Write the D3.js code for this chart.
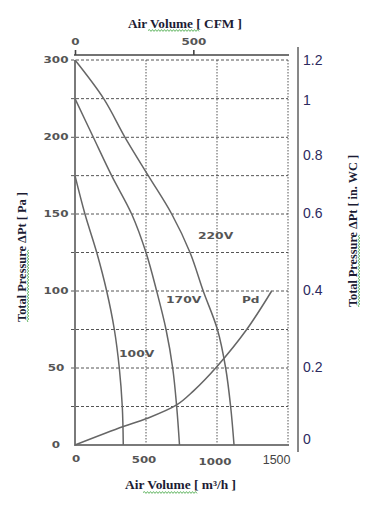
<!DOCTYPE html>
<html><head><meta charset="utf-8">
<script src="https://cdn.jsdelivr.net/npm/d3@7"></script>
<style>body{margin:0;background:#fff}svg{display:block}</style>
</head><body><svg id="c" width="368" height="507"></svg>
<script>
// ---- data ----
const airflowTicks = [0, 500, 1000, 1500];          // m³/h
const cfmTicks = [0, 500];                           // CFM
const paTicks = [0, 50, 100, 150, 200, 300];         // Pa (labels as printed)
const paGrid = [25, 50, 75, 100, 125, 150, 175, 200, 250, 300];
const inwcTicks = [0, 0.2, 0.4, 0.6, 0.8, 1, 1.2];   // in. WC
const curve220 = [[0,300],[202,250],[352,200],[516,175],[681,150],[810,125],[903,100],[1003,75],[1061,50],[1096,25],[1120,0]];
const curve170 = [[0,250],[129,200],[258,175],[399,150],[500,125],[575,100],[641,75],[688,50],[716,25],[736,0]];
const curve100 = [[0,175],[70,150],[153,125],[223,100],[277,75],[312,50],[333,25],[340,0]];
const curvePd  = [[0,0],[340,12],[500,17],[716,26],[833,35],[1000,51],[1209,75],[1385,100]];
const seriesLabels = [
  {text:"220V", at:[866,134]},
  {text:"170V", at:[641,92]},
  {text:"100V", at:[310,57]},
  {text:"Pd",   at:[1176,92]}
];

// ---- layout ----
const svg = d3.select("#c");
const x = d3.scaleLinear().domain([0,1500]).range([75,288]);
const xCfm = d3.scaleLinear().domain([0,900]).range([75,288]);
const y = d3.scaleLinear().domain([0,150,200,300]).range([445,214,137.3,60]);
const yIn = d3.scaleLinear().domain([0,0.2,0.4,0.6,0.8,1,1.2]).range([439,367,290,213,155,100,60]);

const wideFont = "'DejaVu Sans', sans-serif";
const serif = "'Liberation Serif', 'Times New Roman', serif";

// grid lines
svg.append("g").selectAll("line").data(paGrid).join("line")
  .attr("x1", 71).attr("x2", x(1500))
  .attr("y1", d => y(d)).attr("y2", d => y(d))
  .attr("stroke", "#555").attr("stroke-width", 1).attr("stroke-dasharray", "3,2");
svg.append("g").selectAll("line").data(airflowTicks.slice(1)).join("line")
  .attr("x1", d => x(d)).attr("x2", d => x(d))
  .attr("y1", y(300)).attr("y2", y(0))
  .attr("stroke", "#555").attr("stroke-width", 1).attr("stroke-dasharray", "1.5,1.5");

// main axes lines
svg.append("line").attr("x1", x(0)).attr("x2", x(0)).attr("y1", y(300)).attr("y2", y(0)+1)
  .attr("stroke", "#7a7a7a").attr("stroke-width", 2);
svg.append("line").attr("x1", x(0)-1).attr("x2", x(1500)+1).attr("y1", y(0)).attr("y2", y(0))
  .attr("stroke", "#7a7a7a").attr("stroke-width", 2);

// curves
const line = d3.line().x(d => x(d[0])).y(d => y(d[1])).curve(d3.curveCatmullRom.alpha(0.5));
[curve220, curve170, curve100, curvePd].forEach(c => {
  svg.append("path").datum(c).attr("d", line)
    .attr("fill", "none").attr("stroke", "#666").attr("stroke-width", 1.5);
});

// series labels
svg.append("g").selectAll("text").data(seriesLabels).join("text")
  .attr("x", d => x(d.at[0])).attr("y", d => y(d.at[1]))
  .attr("textLength", d => d.text.length * 8.8).attr("lengthAdjust", "spacingAndGlyphs")
  .attr("font-family", wideFont).attr("font-weight", "bold").attr("font-size", 8.5)
  .attr("fill", "#555").text(d => d.text);

// left axis labels
const gl = svg.append("g")
  .call(d3.axisLeft(y).tickValues(paTicks).tickSize(0).tickFormat(d => String(d)));
gl.select(".domain").remove();
gl.selectAll(".tick text")
  .attr("x", 56).attr("dy", "0.32em").attr("text-anchor", "middle")
  .attr("textLength", d => String(d).length * 8.3).attr("lengthAdjust", "spacingAndGlyphs")
  .attr("font-family", wideFont).attr("font-weight", "bold").attr("font-size", 8)
  .attr("fill", "#555");

// bottom axis labels
const gb = svg.append("g").attr("transform", `translate(0,${y(0)})`)
  .call(d3.axisBottom(x).tickValues(airflowTicks).tickSize(0).tickFormat(d => String(d)));
gb.select(".domain").remove();
gb.selectAll(".tick text").each(function(d) {
  const t = d3.select(this);
  if (d === 1500) {
    t.attr("x", 2).attr("y", 19).attr("dy", 0).attr("text-anchor", "end")
      .attr("font-family", "'Liberation Sans', Arial, sans-serif").attr("font-size", 12.5)
      .attr("fill", "#444");
  } else {
    t.attr("x", d === 0 ? 0.5 : -2.5).attr("y", d === 0 ? 16.5 : (d === 500 ? 18 : 20)).attr("dy", 0)
      .attr("text-anchor", "middle")
      .attr("textLength", String(d).length * 8.2).attr("lengthAdjust", "spacingAndGlyphs")
      .attr("font-family", wideFont).attr("font-weight", "bold").attr("font-size", 8)
      .attr("fill", "#555");
  }
});

// top axis (CFM)
const gt = svg.append("g").attr("transform", "translate(0,55)")
  .call(d3.axisTop(xCfm).tickValues(cfmTicks).tickSize(5).tickSizeOuter(0).tickFormat(d => String(d)));
gt.select(".domain").attr("stroke", "#444").attr("stroke-width", 1.6)
  .attr("d", `M${xCfm(0)-1},0H${xCfm(900)+1}`);
gt.selectAll(".tick line").attr("stroke", "#444").attr("stroke-width", 1.6);
gt.selectAll(".tick text")
  .attr("y", -10).attr("dy", 0).attr("text-anchor", "middle")
  .attr("textLength", d => String(d).length * 8.3).attr("lengthAdjust", "spacingAndGlyphs")
  .attr("font-family", wideFont).attr("font-weight", "bold").attr("font-size", 8)
  .attr("fill", "#555");

// right axis (in. WC)
svg.append("line").attr("x1", 298).attr("x2", 298).attr("y1", 47).attr("y2", 452)
  .attr("stroke", "#111").attr("stroke-width", 1);
const gr = svg.append("g").attr("transform", "translate(298,0)")
  .call(d3.axisRight(yIn).tickValues(inwcTicks).tickSize(0).tickPadding(5).tickFormat(d => String(d)));
gr.select(".domain").remove();
gr.selectAll(".tick text")
  .attr("font-family", "'Liberation Sans', Arial, sans-serif").attr("font-size", 14)
  .attr("fill", "#2c2a5e");

// wavy underline helper
function wavy(g, x0, x1, yy) {
  let d = `M${x0},${yy}`;
  let up = true;
  for (let xx = x0 + 1.5; xx <= x1; xx += 1.5) { d += `L${xx},${yy + (up ? -0.9 : 0.9)}`; up = !up; }
  g.append("path").attr("d", d).attr("fill", "none").attr("stroke", "#3da33d").attr("stroke-width", 0.8);
}

// titles
const titleStyle = t => t.attr("font-family", serif).attr("font-weight", "bold").attr("font-size", 12)
  .attr("fill", "#1c1c34").attr("text-anchor", "middle");

svg.append("text").attr("x", 185).attr("y", 28).text("Air Volume  [ CFM ]")
  .call(titleStyle).attr("textLength", 114).attr("lengthAdjust", "spacingAndGlyphs");
wavy(svg, 148, 200, 30.5);

svg.append("text").attr("x", 180.5).attr("y", 489).text("Air Volume  [ m³/h ]")
  .call(titleStyle).attr("textLength", 111).attr("lengthAdjust", "spacingAndGlyphs");
wavy(svg, 143, 197, 492.5);

const lt = svg.append("g").attr("transform", "translate(25.5,257) rotate(-90)");
lt.append("text").attr("x", 0).attr("y", 0).text("Total Pressure ΔPt [ Pa ]")
  .call(titleStyle).attr("textLength", 130).attr("lengthAdjust", "spacingAndGlyphs");
wavy(lt, -65, 8, 2.5);

const rt = svg.append("g").attr("transform", "translate(356.5,231) rotate(-90)");
rt.append("text").attr("x", 0).attr("y", 0).text("Total Pressure ΔPt [ in. WC ]")
  .call(titleStyle).attr("textLength", 152).attr("lengthAdjust", "spacingAndGlyphs");
wavy(rt, -76, -4, 2.5);
</script>
</body></html>
